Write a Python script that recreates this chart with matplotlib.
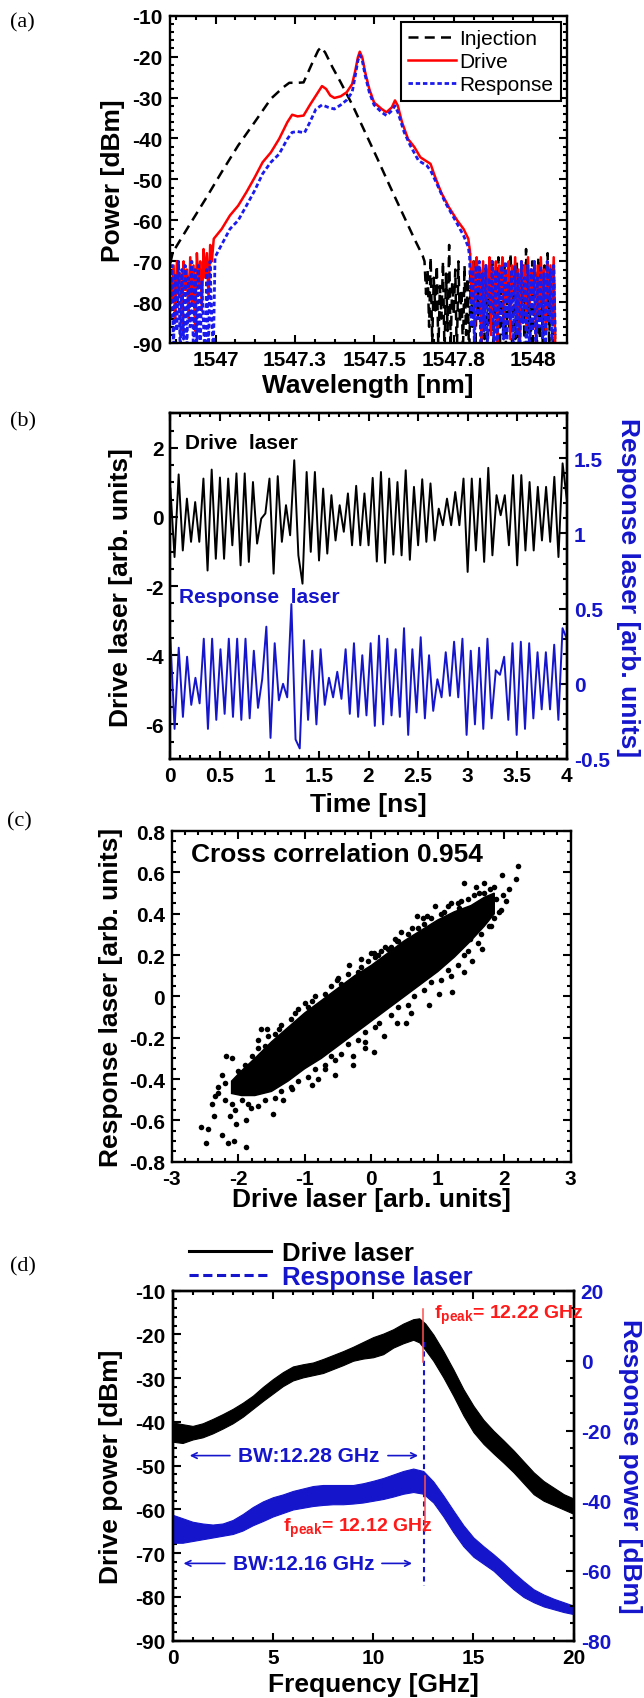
import numpy as np
import matplotlib
matplotlib.use("Agg")
import matplotlib.pyplot as plt
from matplotlib.ticker import MultipleLocator, FuncFormatter
from matplotlib.lines import Line2D

plt.rcParams["font.family"] = ["Liberation Sans", "DejaVu Sans"]
plt.rcParams["font.weight"] = "bold"
plt.rcParams["axes.labelweight"] = "bold"
plt.rcParams["axes.unicode_minus"] = False
plt.rcParams["axes.linewidth"] = 1.7
plt.rcParams["mathtext.fontset"] = "custom"
plt.rcParams["mathtext.rm"] = "Liberation Sans:bold"
plt.rcParams["mathtext.it"] = "Liberation Sans:bold"

BLUE = "#1515cc"

# ---------------- (a) optical spectra ----------------
inj_wl = [1546.857, 1546.865, 1546.916, 1546.968, 1547.019, 1547.071, 1547.123, 1547.174,
          1547.213, 1547.232, 1547.258, 1547.277, 1547.303, 1547.323, 1547.332, 1547.345,
          1547.368, 1547.394, 1547.432, 1547.471, 1547.510, 1547.548, 1547.587, 1547.626,
          1547.652]
inj_db = [-70.5, -67.8, -61.3, -54.8, -48.2, -41.7, -36.0, -30.3,
          -27.5, -26.4, -26.4, -26.3, -21.8, -18.5, -17.7, -19.0,
          -22.6, -26.3, -32.0, -38.5, -45.0, -51.5, -58.0, -64.5,
          -68.6]
inj_noise = [-70, -78, -72, -86, -69, -90, -74, -82, -71, -92, -76, -84, -70, -93, -73, -87,
             -66, -91, -75, -83, -72, -94, -70, -85, -77, -92, -71, -88, -74, -95, -72, -86,
             -70, -93, -76, -84, -73, -91, -71, -89, -75, -94, -72, -87, -70, -92, -74, -85,
             -69, -91, -73, -88, -71, -93, -75, -86, -68, -92, -72, -89, -70, -94, -74, -85,
             -71, -91, -67, -88, -73, -93, -70, -86, -72, -92, -69, -89, -74, -94, -71, -87,
             -68, -91, -73, -88, -70, -92]

drv_left_noise = [-74, -80, -71, -85, -70, -78, -73, -88, -70, -77, -72, -84, -69, -80,
                  -71, -87, -68, -76, -70, -82, -67, -74, -68, -79, -66, -70]
drv_wl = [1546.994, 1547.019, 1547.045, 1547.071, 1547.097, 1547.123, 1547.148, 1547.174,
          1547.200, 1547.226, 1547.241, 1547.258, 1547.277, 1547.297, 1547.316, 1547.335,
          1547.348, 1547.361, 1547.374, 1547.394, 1547.413, 1547.430, 1547.440, 1547.448,
          1547.454, 1547.462, 1547.471, 1547.484, 1547.499, 1547.523, 1547.538, 1547.555,
          1547.565, 1547.574, 1547.587, 1547.606, 1547.626, 1547.645, 1547.665, 1547.677,
          1547.690, 1547.710, 1547.735, 1547.761, 1547.781, 1547.796]
drv_db = [-64.5, -62.1, -58.8, -56.4, -53.1, -49.5, -45.8, -43.4,
          -40.1, -36.0, -34.2, -34.6, -34.4, -31.8, -29.5, -27.2,
          -27.9, -29.5, -30.1, -29.7, -28.7, -26.7, -23.4, -20.2,
          -18.8, -20.2, -23.8, -27.9, -31.2, -32.8, -33.6, -32.4,
          -30.7, -32.0, -36.0, -40.1, -42.1, -44.6, -45.6, -46.2,
          -49.1, -53.1, -56.8, -60.0, -62.1, -64.5]
drv_right_noise = [-68, -80, -70, -86, -69, -77, -72, -90, -70, -82, -71, -79, -69, -88,
                   -72, -81, -70, -92, -71, -77, -69, -85, -72, -80, -70, -89, -71, -78,
                   -69, -84, -72, -91, -70, -79, -71, -86, -69, -81, -72, -78, -70, -90,
                   -71, -83, -69, -80, -72, -87, -70, -79, -71, -85, -69, -92]

rsp_left_noise = [-84, -71, -91, -73, -87, -70, -93, -72, -89, -71, -92, -74, -86, -70,
                  -94, -72, -90, -71, -93, -75, -85, -94, -72, -93, -70, -84, -92, -69]
rsp_wl = [1547.006, 1547.026, 1547.045, 1547.071, 1547.097, 1547.123, 1547.148, 1547.174,
          1547.200, 1547.226, 1547.241, 1547.258, 1547.280, 1547.297, 1547.316, 1547.335,
          1547.355, 1547.374, 1547.394, 1547.413, 1547.430, 1547.440, 1547.448, 1547.454,
          1547.462, 1547.471, 1547.484, 1547.499, 1547.523, 1547.538, 1547.555, 1547.565,
          1547.574, 1547.594, 1547.613, 1547.639, 1547.665, 1547.677, 1547.697, 1547.723,
          1547.755, 1547.781, 1547.796]
rsp_db = [-67.8, -64.9, -62.1, -60.0, -56.4, -52.7, -48.6, -45.8,
          -43.8, -40.1, -38.5, -38.3, -38.6, -36.0, -32.8, -31.8,
          -32.4, -32.8, -31.8, -30.6, -28.7, -24.6, -21.0, -19.6,
          -21.0, -24.6, -28.7, -31.8, -33.6, -34.4, -33.2, -32.0,
          -33.6, -38.5, -41.7, -45.4, -46.6, -47.8, -51.1, -55.6,
          -60.0, -63.7, -66.5]
rsp_right_noise = [-69, -86, -72, -91, -71, -84, -70, -93, -73, -87, -71, -92, -74, -83,
                   -70, -90, -72, -94, -73, -85, -71, -89, -70, -92, -75, -84, -72, -91,
                   -71, -88, -73, -93, -70, -85, -74, -90, -71, -92, -72, -87, -70, -94,
                   -74, -86, -71, -89, -73, -91, -70, -85, -72, -93, -71, -88]

wl_ticks = [1547.0, 1547.25, 1547.5, 1547.75, 1548.0]
wl_labels = ["1547", "1547.3", "1547.5", "1547.8", "1548"]

# ---------------- (b) time series ----------------
drive_ts = [0.82, -1.16, 1.23, -0.97, 0.53, -0.72, 0.43, -0.72, 1.11, -1.55, 1.37, -1.21,
            1.14, -1.21, 1.11, -0.82, 1.26, -1.40, 1.26, -1.30, 1.01, -0.77, -0.05, 0.10,
            1.11, -1.64, 1.18, -0.72, 0.34, -0.53, 1.64, -1.11, -1.93, 1.30, -1.01, 1.30,
            -1.26, 0.82, -1.06, 0.63, -0.68, 0.34, -0.43, 0.68, -0.82, 0.90, -0.82, 0.68,
            -0.82, 1.13, -1.29, 1.30, -1.33, 1.11, -1.09, 1.01, -1.11, 1.35, -1.24, 0.87,
            -0.82, 1.09, -0.72, 0.97, -0.68, 0.24, -0.24, 0.53, -0.24, 0.72, -0.24, 1.11,
            -1.59, 1.11, -0.97, 1.11, -1.30, 1.42, -1.11, 0.63, 0.05, 0.63, -0.82, 1.21,
            -1.40, 1.21, -0.97, 1.01, -0.97, 0.87, -0.68, 0.87, -0.72, 1.16, -1.16, 1.55, 0.53]
resp_ts = [0.30, -0.30, 0.24, -0.22, 0.18, -0.14, 0.04, -0.13, 0.30, -0.30, 0.30, -0.24,
           0.23, -0.20, 0.30, -0.22, 0.30, -0.24, 0.30, -0.23, 0.22, -0.16, 0.03, 0.38,
           -0.36, 0.27, -0.11, 0.00, -0.09, 0.53, -0.37, -0.43, 0.29, -0.24, 0.22, -0.27,
           0.23, -0.14, 0.04, -0.09, 0.08, -0.10, 0.23, -0.20, 0.27, -0.22, 0.19, -0.21,
           0.27, -0.28, 0.32, -0.27, 0.30, -0.21, 0.23, -0.22, 0.37, -0.34, 0.23, -0.19,
           0.31, -0.23, 0.19, -0.18, 0.03, -0.09, 0.21, -0.08, 0.28, -0.09, 0.30, -0.34,
           0.22, -0.27, 0.24, -0.30, 0.30, -0.23, 0.09, 0.06, 0.18, -0.24, 0.27, -0.34,
           0.28, -0.30, 0.27, -0.23, 0.21, -0.17, 0.21, -0.17, 0.26, -0.24, 0.37, 0.30]

# ---------------- (c) correlation plot ----------------
core_x = [-2.1, -1.95, -1.75, -1.5, -1.25, -1.0, -0.75, -0.5, -0.25, 0.0, 0.25, 0.5, 0.75,
          1.0, 1.25, 1.5, 1.7, 1.85,
          1.85, 1.7, 1.5, 1.25, 1.0, 0.75, 0.5, 0.25, 0.0, -0.25, -0.5, -0.75, -1.0, -1.25,
          -1.5, -1.75, -1.95, -2.1]
core_y = [-0.41, -0.36, -0.30, -0.22, -0.15, -0.08, -0.02, 0.04, 0.10, 0.15, 0.21, 0.27, 0.32,
          0.37, 0.41, 0.44, 0.48, 0.50,
          0.40, 0.34, 0.27, 0.19, 0.12, 0.06, 0.0, -0.06, -0.12, -0.18, -0.24, -0.30, -0.35,
          -0.41, -0.46, -0.48, -0.48, -0.47]
pts_x = [-2.56, -2.49, -2.46, -2.37, -2.31, -2.25, -2.15, -2.06, -1.89, -2.19, -2.09, -2.03,
         -1.88, -1.81, -1.66, -1.57, -1.70, -1.48, -1.32, -1.19, -0.89, -0.70, -0.55, -0.55,
         -0.27, -0.28, -0.09, 0.04, 0.19, 0.38, 0.53, 0.87, 1.02, 1.21, 1.40, 1.51, 1.67,
         1.77, 1.92, 1.98, 2.07, 2.20, 2.17, 1.96, 1.70, 1.58, 1.40, 0.69, 1.15, 0.38, 0.04,
         -0.33, -0.52, -0.89, -1.15, -1.38, 0.96, 0.84, -0.15, 0.25, 1.18,
         -1.9, -1.6, -1.45, -1.2, -0.95, -0.7, -0.45, -0.2, 0.05, 0.3, 0.55, 0.8, 1.05, 1.3,
         1.45, 1.62, 1.78, 0.15, 0.62, -0.05,
         1.85, 1.65, 1.4, 1.15, 0.9, 0.65, 0.4, 0.12, -0.1, -0.35, -0.6, -0.85, -1.1, -1.35,
         -1.6, -1.85, -2.05, -2.2, -2.3, -2.25,
         -2.0, -1.8, -1.7, -1.55, -1.35, -1.1, -0.85, -0.6, -0.35, -0.15, 0.1, 0.2, 0.4, 0.45,
         0.7, 0.9, 1.1, 1.2, 1.35, 1.55, 1.7, 1.85, -0.5, 0.0, -1.0,
         1.95, 1.8, 1.6, 1.45, 1.3, 1.05, 0.8, 0.55, 0.3, 0.05, -0.2, -0.45, -0.7, -0.95, -1.2,
         -1.45, -1.7, -1.95, -2.1, -2.35, 0.6, -0.1, 1.2, -0.8,
         -2.4, -2.2, -2.12, -1.98, -1.75, -1.62, -1.28, -1.05, -0.78, -0.3, 0.35, 0.78, 1.12,
         1.48, 1.72, 1.88, 2.02, 1.6, 1.32, 0.98]
pts_y = [-0.63, -0.71, -0.64, -0.58, -0.47, -0.67, -0.71, -0.70, -0.73, -0.29, -0.30, -0.62,
         -0.60, -0.54, -0.16, -0.16, -0.21, -0.57, -0.50, -0.45, -0.43, -0.35, -0.31, -0.38,
         -0.33, -0.29, -0.25, -0.27, -0.19, -0.13, -0.13, -0.04, 0.01, 0.02, 0.12, 0.17, 0.23,
         0.34, 0.41, 0.49, 0.52, 0.63, 0.57, 0.59, 0.55, 0.53, 0.55, 0.39, 0.44, 0.27, 0.21,
         0.15, 0.08, -0.02, -0.08, -0.16, 0.44, 0.39, 0.18, 0.23, 0.23,
         -0.33, -0.24, -0.18, -0.11, -0.05, 0.01, 0.06, 0.12, 0.19, 0.24, 0.30, 0.35, 0.40, 0.45,
         0.47, 0.50, 0.52, 0.22, 0.33, 0.17,
         0.38, 0.30, 0.20, 0.13, 0.07, 0.0, -0.05, -0.13, -0.17, -0.23, -0.29, -0.35, -0.41, -0.46,
         -0.50, -0.52, -0.55, -0.50, -0.44, -0.38,
         -0.36, -0.29, -0.25, -0.19, -0.14, -0.06, 0.0, 0.05, 0.11, 0.14, 0.2, 0.24, 0.27, 0.31,
         0.33, 0.38, 0.41, 0.45, 0.46, 0.49, 0.5, 0.53, 0.09, 0.21, -0.03,
         0.42, 0.34, 0.26, 0.22, 0.15, 0.08, 0.03, -0.04, -0.09, -0.15, -0.21, -0.28, -0.33,
         -0.39, -0.44, -0.49, -0.53, -0.5, -0.52, -0.48, -0.08, -0.22, 0.1, -0.4,
         -0.52, -0.42, -0.58, -0.41, -0.44, -0.28, -0.2, -0.12, -0.06, 0.06, 0.28, 0.38, 0.33,
         0.28, 0.44, 0.47, 0.46, 0.36, 0.43, 0.31]

# ---------------- (d) RF spectra ----------------
freq = [0, 0.5, 1, 1.5, 2, 2.5, 3, 3.5, 4, 4.5, 5, 5.5, 6, 6.5, 7, 7.5, 8, 8.5, 9, 9.5, 10,
        10.5, 11, 11.5, 12, 12.3, 12.6, 13, 13.5, 14, 14.5, 15, 15.5, 16, 16.5, 17, 17.5, 18,
        18.5, 19, 19.5, 20]
drive_hi = [-40.1, -40.5, -40.9, -40.3, -39.3, -38.2, -37.0, -35.6, -34.0, -32.0, -30.2, -28.6,
            -27.3, -26.8, -26.4, -25.6, -24.7, -23.8, -22.8, -21.7, -20.6, -19.8, -18.8, -17.5,
            -16.5, -16.3, -17.5, -20.0, -23.8, -28.0, -32.5, -36.3, -39.5, -42.0, -44.2, -46.5,
            -49.0, -51.5, -53.5, -55.0, -56.5, -57.5]
drive_lo = [-44.5, -44.8, -44.0, -43.5, -42.6, -41.5, -40.3, -38.8, -37.0, -35.2, -33.5, -31.8,
            -30.5, -29.8, -29.3, -28.8, -27.9, -27.0, -26.0, -25.5, -25.2, -24.5, -23.0, -22.0,
            -21.2, -21.8, -23.5, -26.0, -29.8, -34.0, -38.5, -42.3, -45.0, -47.2, -49.3, -51.5,
            -54.0, -56.5, -58.0, -59.0, -60.0, -61.0]
freq_r = [0, 0.5, 1, 1.5, 2, 2.5, 3, 3.5, 4, 4.5, 5, 5.5, 6, 6.5, 7, 7.5, 8, 8.5, 9, 9.5, 10,
          10.5, 11, 11.5, 12, 12.5, 13, 13.5, 14, 14.5, 15, 15.5, 16, 16.5, 17, 17.5, 18, 18.5,
          19, 19.5, 20]
resp_hi = [-44.0, -45.0, -46.0, -46.5, -46.8, -46.5, -45.5, -43.8, -41.8, -40.2, -39.0, -38.2,
           -37.2, -36.5, -35.8, -35.5, -35.5, -35.5, -35.5, -35.0, -34.3, -33.5, -32.5, -31.5,
           -30.8, -31.5, -34.5, -38.5, -42.8, -47.0, -50.5, -53.0, -55.3, -57.8, -60.5, -63.0,
           -65.3, -66.8, -68.0, -69.0, -70.0]
resp_lo = [-52.0, -52.0, -51.5, -51.0, -50.5, -50.0, -49.5, -48.5, -47.0, -45.8, -44.5, -43.5,
           -42.5, -42.0, -41.5, -41.2, -41.0, -41.0, -40.8, -40.5, -40.0, -39.5, -38.8, -38.0,
           -37.5, -38.0, -40.5, -44.5, -49.0, -53.0, -56.0, -58.0, -60.0, -62.7, -65.3, -67.5,
           -69.0, -70.2, -71.0, -71.8, -72.4]

fpeak_drive = 12.50
fpeak_resp = 12.58
bw_drive = 12.55


def gfmt(v, p):
    return "%g" % (round(v, 6) + 0.0)


def style(ax, top=True, right=True, left=True):
    ax.tick_params(which="both", direction="in", top=top, right=right, left=left,
                   width=1.5, labelsize=15, pad=5)
    ax.tick_params(which="major", length=6)
    ax.tick_params(which="minor", length=3)


fig = plt.figure(figsize=(6.44, 16.99), dpi=100)

# ---- (a)
ax = fig.add_axes([0.2634, 0.7974, 0.6166, 0.1928])
x_inj = np.concatenate([inj_wl, np.linspace(1547.658, 1548.07, len(inj_noise))])
y_inj = np.concatenate([inj_db, inj_noise])
x_drv = np.concatenate([np.linspace(1546.857, 1546.988, len(drv_left_noise)), drv_wl,
                        np.linspace(1547.802, 1548.07, len(drv_right_noise))])
y_drv = np.concatenate([drv_left_noise, drv_db, drv_right_noise])
x_rsp = np.concatenate([np.linspace(1546.857, 1546.998, len(rsp_left_noise)), rsp_wl,
                        np.linspace(1547.80, 1548.07, len(rsp_right_noise))])
y_rsp = np.concatenate([rsp_left_noise, rsp_db, rsp_right_noise])
ax.plot(x_inj, y_inj, color="black", lw=1.8, ls=(0, (4, 2.5)), label="Injection")
ax.plot(x_drv, y_drv, color="#ff0000", lw=1.8, label="Drive")
ax.plot(x_rsp, y_rsp, color="#1a1aee", lw=2.0, ls=(0, (1.6, 1.0)), label="Response")
ax.set_xlim(1546.855, 1548.106)
ax.set_ylim(-90, -10)
ax.set_xticks(wl_ticks)
ax.set_xticklabels(wl_labels)
ax.xaxis.set_minor_locator(MultipleLocator(0.0625))
ax.yaxis.set_major_locator(MultipleLocator(10))
ax.yaxis.set_minor_locator(MultipleLocator(2))
style(ax)
ax.set_xlabel("Wavelength [nm]", fontsize=19)
ax.set_ylabel("Power [dBm]", fontsize=19)
ax.xaxis.set_label_coords(0.5, -0.129)
ax.xaxis.label.set_va("center")
ax.yaxis.set_label_coords(-0.1425, 0.5)
ax.yaxis.label.set_va("center")
leg = ax.legend(loc="upper right", bbox_to_anchor=(0.985, 0.982), borderaxespad=0,
                prop={"family": "Liberation Sans", "weight": "normal", "size": 15},
                handlelength=2.3, handletextpad=0.15, labelspacing=0.2, borderpad=0.35,
                fancybox=False, edgecolor="black", framealpha=1)
leg.get_frame().set_linewidth(1.5)

# ---- (b)
ax = fig.add_axes([0.2646, 0.5527, 0.6154, 0.2035])
axr = ax.twinx()
t_d = np.linspace(0, 4, len(drive_ts))
t_r = np.linspace(0, 4, len(resp_ts))
ax.plot(t_d, drive_ts, color="black", lw=1.4)
axr.plot(t_r, resp_ts, color=BLUE, lw=1.4)
ax.set_xlim(0, 4)
ax.set_ylim(-7, 3)
axr.set_ylim(-0.5, 1.8)
ax.xaxis.set_major_locator(MultipleLocator(0.5))
ax.xaxis.set_minor_locator(MultipleLocator(0.1))
ax.yaxis.set_major_locator(MultipleLocator(2))
ax.yaxis.set_minor_locator(MultipleLocator(0.5))
axr.yaxis.set_major_locator(MultipleLocator(0.5))
axr.yaxis.set_minor_locator(MultipleLocator(0.1))
ax.xaxis.set_major_formatter(FuncFormatter(gfmt))
ax.yaxis.set_major_formatter(FuncFormatter(gfmt))
axr.yaxis.set_major_formatter(FuncFormatter(gfmt))
style(ax, right=False)
style(axr, top=False, left=False)
axr.tick_params(axis="y", labelcolor=BLUE)
ax.set_xlabel("Time [ns]", fontsize=19)
ax.set_ylabel("Drive laser [arb. units]", fontsize=19)
axr.set_ylabel("Response laser [arb. units]", fontsize=19, color=BLUE, rotation=270)
ax.xaxis.set_label_coords(0.5, -0.130)
ax.xaxis.label.set_va("center")
ax.yaxis.set_label_coords(-0.1247, 0.5)
ax.yaxis.label.set_va("center")
axr.yaxis.set_label_coords(1.1547, 0.5)
axr.yaxis.label.set_va("center")
ax.text(0.036, 0.916, "Drive  laser", transform=ax.transAxes, fontsize=15,
        ha="left", va="center", color="black")
ax.text(0.021, 0.471, "Response  laser", transform=ax.transAxes, fontsize=15,
        ha="left", va="center", color=BLUE)

# ---- (c)
ax = fig.add_axes([0.2666, 0.3157, 0.6197, 0.1945])
ax.fill(core_x, core_y, color="black", lw=1, ec="black")
ax.scatter(pts_x, pts_y, s=16, color="black", lw=0)
ax.set_xlim(-3, 3)
ax.set_ylim(-0.8, 0.8)
ax.xaxis.set_major_locator(MultipleLocator(1))
ax.xaxis.set_minor_locator(MultipleLocator(0.2))
ax.yaxis.set_major_locator(MultipleLocator(0.2))
ax.yaxis.set_minor_locator(MultipleLocator(0.05))
ax.xaxis.set_major_formatter(FuncFormatter(gfmt))
ax.yaxis.set_major_formatter(FuncFormatter(gfmt))
style(ax)
ax.set_xlabel("Drive laser [arb. units]", fontsize=19)
ax.set_ylabel("Response laser [arb. units]", fontsize=19)
ax.xaxis.set_label_coords(0.5, -0.113)
ax.xaxis.label.set_va("center")
ax.yaxis.set_label_coords(-0.152, 0.5)
ax.yaxis.label.set_va("center")
ax.text(0.048, 0.93, "Cross correlation 0.954", transform=ax.transAxes, fontsize=19,
        ha="left", va="center")

# ---- (d)
ax = fig.add_axes([0.2679, 0.0337, 0.6230, 0.2060])
axr = ax.twinx()
ax.fill_between(freq, drive_lo, drive_hi, color="black", lw=0.8)
axr.fill_between(freq_r, resp_lo, resp_hi, color=BLUE, lw=0.8)
ax.set_xlim(0, 20)
ax.set_ylim(-90, -10)
axr.set_ylim(-80, 20)
ax.xaxis.set_major_locator(MultipleLocator(5))
ax.xaxis.set_minor_locator(MultipleLocator(1))
ax.yaxis.set_major_locator(MultipleLocator(10))
ax.yaxis.set_minor_locator(MultipleLocator(2))
axr.yaxis.set_major_locator(MultipleLocator(20))
axr.yaxis.set_minor_locator(MultipleLocator(5))
style(ax, right=False)
style(axr, top=False, left=False)
axr.tick_params(axis="y", labelcolor=BLUE)
ax.set_xlabel("Frequency [GHz]", fontsize=19)
ax.set_ylabel("Drive power [dBm]", fontsize=19)
axr.set_ylabel("Response power [dBm]", fontsize=19, color=BLUE, rotation=270)
ax.xaxis.set_label_coords(0.5, -0.124)
ax.xaxis.label.set_va("center")
ax.yaxis.set_label_coords(-0.153, 0.5)
ax.yaxis.label.set_va("center")
axr.yaxis.set_label_coords(1.140, 0.5)
axr.yaxis.label.set_va("center")

# annotations (right-axis units)
axr.plot([bw_drive, bw_drive], [5.25, -64.25], color=BLUE, lw=1.5, ls=(0, (2.5, 2)))
axr.plot([fpeak_drive, fpeak_drive], [14.75, -0.5], color="#ff5050", lw=1.1)
axr.plot([fpeak_resp, fpeak_resp], [-32.9, -48.6], color="#ff5050", lw=1.1)
axr.text(13.04, 12.1, r"f$_\mathrm{peak}$= 12.22 GHz", color="#ff1a1a", fontsize=14,
         ha="left", va="baseline")
axr.text(5.53, -48.6, r"f$_\mathrm{peak}$= 12.12 GHz", color="#ff1a1a", fontsize=14,
         ha="left", va="baseline")
for y_bw, x_start, x_end, x_t0, x_t1, label in [
        (-27.1, 0.72, 12.38, 3.0, 10.6, "BW:12.28 GHz"),
        (-57.9, 0.41, 12.08, 2.75, 10.3, "BW:12.16 GHz")]:
    axr.annotate("", xy=(x_start, y_bw), xytext=(x_t0, y_bw),
                 arrowprops=dict(arrowstyle="->", color=BLUE, lw=1.2))
    axr.annotate("", xy=(x_end, y_bw), xytext=(x_t1, y_bw),
                 arrowprops=dict(arrowstyle="->", color=BLUE, lw=1.2))
    axr.text((x_t0 + x_t1) / 2, y_bw, label, color=BLUE, fontsize=15, ha="center", va="center")

handles = [Line2D([], [], color="black", lw=2.2),
           Line2D([], [], color=BLUE, lw=2.2, ls=(0, (3, 1.5)))]
leg = axr.legend(handles, ["Drive laser", "Response laser"], loc="lower left",
                 bbox_to_anchor=(0.04, 1.005), borderaxespad=0, borderpad=0, frameon=False,
                 fontsize=18.5, handlelength=3.2, handletextpad=0.45, labelspacing=0.0)
leg.get_texts()[1].set_color(BLUE)

for lbl, fx, fy in [("(a)", 0.035, 0.9863), ("(b)", 0.035, 0.7518),
                    ("(c)", 0.030, 0.5164), ("(d)", 0.035, 0.2544)]:
    fig.text(fx, fy, lbl, family="Liberation Serif", weight="normal", fontsize=16,
             ha="center", va="center")

fig.savefig("out.png", dpi=100)
